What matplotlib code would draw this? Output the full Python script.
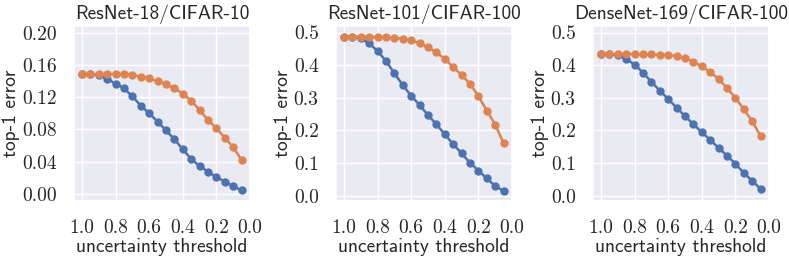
import matplotlib
matplotlib.use("Agg")
import matplotlib.pyplot as plt
import seaborn as sns

sns.set_theme(style="darkgrid")

# uncertainty thresholds (x axis, shown inverted)
thresholds = [1.0, 0.95, 0.9, 0.85, 0.8, 0.75, 0.7, 0.65, 0.6, 0.55,
              0.5, 0.45, 0.4, 0.35, 0.3, 0.25, 0.2, 0.15, 0.1, 0.05]

titles = ["ResNet-18/CIFAR-10", "ResNet-101/CIFAR-100", "DenseNet-169/CIFAR-100"]

# ResNet-18 / CIFAR-10
r18_blue = [0.1484, 0.1484, 0.1476, 0.1426, 0.1368, 0.131, 0.1211, 0.1095, 0.100, 0.0897,
            0.0789, 0.0678, 0.0554, 0.0434, 0.0347, 0.0277, 0.0211, 0.0153, 0.0095, 0.0045]
r18_orange = [0.1484, 0.1484, 0.1488, 0.1488, 0.1488, 0.1484, 0.1476, 0.1455, 0.1434, 0.1401,
              0.136, 0.131, 0.1244, 0.1157, 0.1042, 0.0918, 0.0814, 0.0698, 0.0579, 0.0422]

# ResNet-101 / CIFAR-100
r101_blue = [0.487, 0.487, 0.482, 0.467, 0.443, 0.413, 0.375, 0.339, 0.306, 0.278,
             0.247, 0.219, 0.188, 0.158, 0.130, 0.101, 0.077, 0.053, 0.030, 0.015]
r101_orange = [0.487, 0.487, 0.487, 0.486, 0.486, 0.485, 0.484, 0.481, 0.476, 0.467,
               0.455, 0.439, 0.419, 0.394, 0.370, 0.343, 0.305, 0.261, 0.218, 0.161]

# DenseNet-169 / CIFAR-100
d169_blue = [0.433, 0.433, 0.431, 0.419, 0.402, 0.377, 0.349, 0.322, 0.296, 0.270,
             0.244, 0.219, 0.195, 0.171, 0.147, 0.123, 0.098, 0.070, 0.046, 0.021]
d169_orange = [0.433, 0.433, 0.434, 0.434, 0.434, 0.433, 0.433, 0.432, 0.431, 0.428,
               0.421, 0.411, 0.396, 0.379, 0.358, 0.330, 0.300, 0.265, 0.229, 0.182]

blue_series = [r18_blue, r101_blue, d169_blue]
orange_series = [r18_orange, r101_orange, d169_orange]

xticks = [1.0, 0.8, 0.6, 0.4, 0.2, 0.0]
xtick_labels = ["1.0", "0.8", "0.6", "0.4", "0.2", "0.0"]
yticks_list = [[0.0, 0.04, 0.08, 0.12, 0.16, 0.20],
               [0.0, 0.1, 0.2, 0.3, 0.4, 0.5],
               [0.0, 0.1, 0.2, 0.3, 0.4, 0.5]]
ytick_labels_list = [["0.00", "0.04", "0.08", "0.12", "0.16", "0.20"],
                     ["0.0", "0.1", "0.2", "0.3", "0.4", "0.5"],
                     ["0.0", "0.1", "0.2", "0.3", "0.4", "0.5"]]
ylims = [(-0.0083, 0.2083), (-0.015, 0.52), (-0.015, 0.52)]

blue = "#4C72B0"
orange = "#DD8452"

fig = plt.figure(figsize=(7.89, 2.59), dpi=100)
lefts = [74 / 789, 336 / 789, 593 / 789]
width = 176 / 789
bottom = (259 - 200.7) / 259
height = (200.7 - 26) / 259

for i in range(3):
    ax = fig.add_axes([lefts[i], bottom, width, height])
    ax.plot(thresholds, blue_series[i], color=blue, marker="o", markersize=5, lw=1.8)
    ax.plot(thresholds, orange_series[i], color=orange, marker="o", markersize=5, lw=1.8)
    ax.invert_xaxis()
    ax.set_ylim(*ylims[i])
    ax.set_xticks(xticks)
    ax.set_xticklabels(xtick_labels, fontfamily="cmr10", fontsize=14)
    ax.set_yticks(yticks_list[i])
    ax.set_yticklabels(ytick_labels_list[i], fontfamily="cmr10", fontsize=14)
    ax.tick_params(axis="y", pad=6.5)
    ax.tick_params(axis="x", pad=7)
    ax.set_title(titles[i], fontfamily="cmss10", fontsize=14, pad=5)
    ax.set_xlabel("uncertainty threshold", fontfamily="cmss10", fontsize=14, labelpad=1)
    ax.set_ylabel("top-1 error", fontfamily="cmss10", fontsize=14, labelpad=1)

fig.savefig("out.png", dpi=100)
